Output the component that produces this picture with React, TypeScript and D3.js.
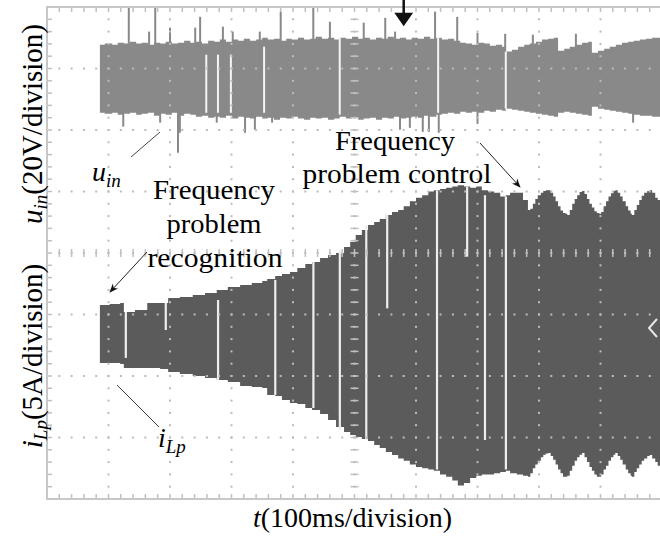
import React from "react";
import * as d3 from "d3";

// Oscilloscope screen: 10 horizontal divisions (100 ms/div), 8 vertical divisions
const timeTicks = d3.range(0, 1001, 100); // ms
const divTicks = d3.range(-4, 5, 1);
const uinVoltsPerDiv = 20;
const ilpAmpsPerDiv = 5;
const uinOffsetDiv = 2.85;
const ilpOffsetDiv = -1.3;

// u_in envelope: [t (ms), upper (V), lower (V)]
const uinEnvelope: number[][] = [
  [86, 10.7, -11.4], [94, 11.1, -11.7], [106, 10.7, -11.4], [115, 11.4, -12.0], [125, 11.1, -11.7],
  [135, 11.7, -11.4], [145, 11.1, -12.0], [154, 11.4, -11.7], [164, 10.7, -11.4], [174, 11.4, -12.4],
  [184, 11.1, -11.7], [193, 11.7, -12.0], [203, 11.1, -11.4], [213, 11.4, -12.4], [223, 12.0, -11.7],
  [233, 11.4, -12.0], [242, 11.7, -12.7], [252, 11.1, -12.4], [262, 12.0, -13.0], [272, 11.7, -12.7],
  [281, 12.4, -13.0], [291, 11.7, -12.4], [301, 12.4, -13.3], [311, 12.0, -12.7], [320, 12.7, -13.0],
  [330, 12.0, -13.3], [340, 12.4, -12.7], [350, 13.0, -13.3], [359, 12.4, -13.0], [369, 12.7, -13.7],
  [379, 12.0, -13.0], [389, 12.7, -13.3], [398, 12.4, -12.7], [408, 13.0, -13.3], [418, 12.4, -13.7],
  [428, 12.7, -13.0], [437, 13.3, -13.3], [447, 12.7, -13.0], [457, 13.0, -13.7], [467, 12.4, -13.3],
  [476, 13.0, -12.7], [486, 12.7, -13.3], [496, 13.3, -13.0], [506, 12.7, -13.7], [515, 13.0, -13.3],
  [525, 12.4, -13.0], [535, 13.0, -13.7], [545, 12.7, -13.0], [554, 13.3, -13.3], [564, 12.7, -12.7],
  [574, 13.0, -13.3], [584, 12.4, -13.0], [593, 13.0, -12.7], [603, 12.7, -13.0], [613, 13.3, -12.4],
  [623, 12.7, -12.7], [633, 13.0, -12.0], [642, 12.4, -11.7], [652, 12.7, -11.4], [662, 12.0, -11.7],
  [672, 11.4, -11.1], [681, 11.1, -11.4], [691, 10.7, -11.1], [701, 11.4, -11.4], [711, 11.1, -10.7],
  [720, 10.4, -11.1], [730, 10.7, -10.4], [740, 10.1, -10.7], [746, 8.5, -10.1], [756, 9.1, -10.4],
  [766, 10.1, -10.7], [776, 10.7, -11.1], [785, 11.1, -11.4], [795, 11.7, -11.7], [805, 12.4, -12.0],
  [815, 12.7, -12.4], [824, 13.0, -12.7], [831, 8.8, -11.4], [841, 9.4, -11.1], [850, 10.1, -11.4],
  [860, 10.7, -11.7], [870, 11.4, -12.0], [880, 11.7, -12.4], [886, 8.1, -9.4], [896, 8.8, -10.1],
  [906, 9.4, -10.4], [915, 10.1, -10.7], [925, 10.7, -11.1], [935, 11.4, -11.4], [945, 11.7, -11.7],
  [954, 12.0, -12.0], [964, 12.4, -12.4], [974, 12.7, -12.4], [984, 13.0, -12.7], [993, 13.0, -12.7],
  [1000, 13.0, -12.7],
];

// u_in spikes: [t (ms), tip (V)]
const uinSpikes: number[][] = [
  [133, 23.1], [176, 23.1], [166, 15.0], [200, 16.3], [241, 16.3], [249, 19.8], [286, 16.6],
  [302, 15.0], [346, 15.0], [380, 21.5], [433, 23.1], [460, 18.2], [515, 17.9], [550, 19.5],
  [566, 15.0], [631, 21.5], [667, 19.8], [700, 14.6], [745, 14.3], [790, 14.0], [860, 14.3],
  [124, -15.9], [184, -14.6], [213, -24.4], [216, -17.9], [276, -14.6], [322, -17.9], [338, -16.9],
  [366, -14.6], [574, -16.9], [590, -16.3], [611, -17.6], [621, -17.6], [637, -17.9], [700, -15.0],
  [953, -14.6],
];

// u_in white dropouts: [t (ms), upper (V), lower (V)]
const uinGaps: number[][] = [
  [259, 7.5, -11.4], [278, 7.5, -11.4], [299, 7.5, -11.4], [353, 10.1, -11.4],
  [476, 13.3, -12.0], [636, 13.3, -11.4], [746, 8.5, -10.1],
];

// i_Lp envelope: [t (ms), upper (A), lower (A)]
const ilpEnvelope: number[][] = [
  [86, 2.28, -2.44], [102, 2.36, -2.44], [119, 2.44, -2.52], [125, 1.71, -2.85], [143, 1.87, -2.85],
  [163, 2.44, -2.85], [184, 2.44, -2.93], [197, 2.85, -3.17], [216, 2.93, -3.33], [237, 3.09, -3.5],
  [257, 3.25, -3.66], [276, 3.5, -3.82], [294, 3.74, -3.98], [314, 3.9, -4.31], [333, 4.07, -4.39],
  [350, 4.23, -4.47], [358, 4.39, -5.04], [371, 4.63, -5.12], [382, 4.8, -5.45], [395, 4.96, -5.69],
  [407, 5.28, -5.77], [420, 5.61, -6.1], [431, 5.77, -6.26], [444, 6.1, -6.59], [457, 6.34, -7.07],
  [470, 6.5, -7.64], [483, 6.99, -8.05], [493, 7.4, -8.29], [502, 7.97, -8.46], [512, 8.37, -8.62],
  [522, 8.78, -8.78], [532, 9.02, -9.11], [541, 9.27, -9.35], [551, 9.59, -9.67], [561, 9.84, -9.92],
  [571, 10.0, -10.2], [580, 10.3, -10.4], [590, 10.7, -10.7], [600, 11.0, -10.9], [610, 11.2, -11.0],
  [620, 11.5, -11.1], [629, 11.6, -11.2], [639, 11.7, -11.5], [649, 11.8, -11.7], [659, 11.9, -12.0],
  [668, 12.0, -12.4], [678, 11.9, -12.2], [688, 11.8, -11.8], [698, 11.9, -11.6], [707, 11.6, -11.5],
  [717, 11.5, -11.5], [727, 11.4, -11.4], [737, 11.1, -11.3], [746, 11.2, -11.2], [753, 11.4, -11.4],
  [764, 11.4, -11.5], [774, 10.8, -11.6], [782, 10.0, -11.7], [786, 10.1, -11.4], [790, 10.5, -11.0],
  [794, 10.9, -10.7], [798, 11.2, -10.4], [803, 11.4, -10.1], [807, 11.55, -9.9], [811, 11.6, -9.8],
  [815, 11.6, -9.76], [819, 11.4, -10.0], [823, 11.1, -10.3], [827, 10.7, -10.7], [831, 10.3, -11.1],
  [835, 9.95, -11.4], [839, 9.76, -11.7], [843, 9.7, -11.7], [846, 9.59, -11.6], [850, 10.0, -11.2],
  [854, 10.5, -10.8], [858, 10.9, -10.4], [862, 11.2, -10.1], [866, 11.45, -9.9], [870, 11.55, -9.76],
  [874, 11.3, -10.1], [878, 10.9, -10.5], [882, 10.5, -10.9], [886, 10.2, -11.2], [890, 9.9, -11.5],
  [894, 9.76, -11.7], [898, 9.7, -11.7], [901, 9.84, -11.5], [905, 10.3, -11.1], [909, 10.7, -10.8],
  [913, 11.1, -10.4], [917, 11.35, -10.1], [921, 11.55, -9.9], [924, 11.6, -9.76], [928, 11.4, -10.0],
  [932, 11.1, -10.3], [936, 10.7, -10.7], [941, 10.3, -11.1], [945, 9.95, -11.4], [949, 9.7, -11.6],
  [951, 9.59, -11.7], [955, 10.0, -11.3], [959, 10.4, -11.0], [963, 10.8, -10.7], [967, 11.15, -10.4],
  [971, 11.4, -10.2], [976, 11.55, -10.0], [980, 11.6, -9.92], [984, 11.4, -10.2], [989, 11.0, -10.5],
  [993, 10.8, -10.8], [997, 10.6, -11.0], [1000, 10.6, -11.0],
];

// i_Lp white dropouts: [t (ms), upper (A), lower (A)]
const ilpGaps: number[][] = [
  [128, 1.71, -2.03], [193, 2.44, 0.24], [278, 2.68, -3.82], [371, 4.31, -5.04], [433, 5.77, -6.1],
  [476, 6.75, -7.89], [519, 8.78, -8.7], [553, 9.6, 2.0], [634, 11.6, -11.1], [683, 11.9, 6.2],
  [712, 11.2, -8.7], [746, 11.1, -11.1],
];

const SERIF = '"Liberation Serif", "Times New Roman", "DejaVu Serif", serif';

export default function App() {
  const L = 47, R = 662, T = 7, B = 499;
  const x = d3.scaleLinear().domain([0, 1000]).range([L, R]);
  const yDiv = d3.scaleLinear().domain([-4, 4]).range([B, T]);
  const yU = d3
    .scaleLinear()
    .domain([(-4 - uinOffsetDiv) * uinVoltsPerDiv, (4 - uinOffsetDiv) * uinVoltsPerDiv])
    .range([B, T]);
  const yI = d3
    .scaleLinear()
    .domain([(-4 - ilpOffsetDiv) * ilpAmpsPerDiv, (4 - ilpOffsetDiv) * ilpAmpsPerDiv])
    .range([B, T]);

  const areaU = d3
    .area<number[]>()
    .x((d) => x(d[0]))
    .y0((d) => yU(d[2]))
    .y1((d) => yU(d[1]))
    .curve(d3.curveStepAfter);
  const areaI = d3
    .area<number[]>()
    .x((d) => x(d[0]))
    .y0((d) => yI(d[2]))
    .y1((d) => yI(d[1]))
    .curve(d3.curveStepAfter);

  const minorT = d3.range(0, 1000.01, 20);
  const minorD = d3.range(-4, 4.001, 0.2);

  const dots: any[] = [];
  timeTicks.slice(1).forEach((t) => {
    minorD.forEach((d, j) => {
      dots.push(<rect key={`v${t}-${j}`} x={x(t) - 1} y={yDiv(d) - 1} width={2} height={2} fill="#bcbcbc" />);
    });
  });
  divTicks.slice(1, -1).forEach((dv) => {
    minorT.forEach((t, j) => {
      dots.push(<rect key={`h${dv}-${j}`} x={x(t) - 1} y={yDiv(dv) - 1} width={2} height={2} fill="#bcbcbc" />);
    });
  });

  const ticks: any[] = [];
  minorT.forEach((t, j) => {
    ticks.push(<line key={`tt${j}`} x1={x(t)} x2={x(t)} y1={T} y2={T + 5} stroke="#c0c0c0" strokeWidth={1.5} />);
    ticks.push(<line key={`tb${j}`} x1={x(t)} x2={x(t)} y1={B - 5} y2={B} stroke="#c0c0c0" strokeWidth={1.5} />);
    ticks.push(
      <line key={`tc${j}`} x1={x(t)} x2={x(t)} y1={yDiv(0) - 4} y2={yDiv(0) + 4} stroke="#c0c0c0" strokeWidth={1.5} />
    );
  });
  minorD.forEach((d, j) => {
    ticks.push(<line key={`tl${j}`} x1={L} x2={L + 5} y1={yDiv(d)} y2={yDiv(d)} stroke="#c0c0c0" strokeWidth={1.5} />);
    ticks.push(
      <line key={`tm${j}`} x1={x(500) - 4} x2={x(500) + 4} y1={yDiv(d)} y2={yDiv(d)} stroke="#c0c0c0" strokeWidth={1.5} />
    );
  });

  const tx = { fontFamily: SERIF };

  return (
    <svg width={660} height={540} style={{ position: "absolute", left: 0, top: 0, background: "#fff" }}>
      <defs>
        <marker id="ah" viewBox="0 0 10 10" refX="9" refY="5" markerWidth="9" markerHeight="9" orient="auto">
          <path d="M0,1 L10,5 L0,9 L3,5 Z" fill="#111" />
        </marker>
      </defs>
      <rect x={0} y={0} width={660} height={540} fill="#fff" />

      {/* traces */}
      <path d={areaU(uinEnvelope) || ""} fill="#898989" />
      {uinSpikes.map((s, i) => (
        <rect
          key={`us${i}`}
          x={x(s[0]) - 1}
          width={2}
          y={Math.min(yU(s[1]), yU(0))}
          height={Math.abs(yU(s[1]) - yU(0))}
          fill="#898989"
        />
      ))}
      {uinGaps.map((g, i) => (
        <rect key={`ug${i}`} x={x(g[0]) - 1} width={2} y={yU(g[1])} height={yU(g[2]) - yU(g[1])} fill="#f4f4f4" />
      ))}
      <path d={areaI(ilpEnvelope) || ""} fill="#5b5b5b" />
      {ilpGaps.map((g, i) => (
        <rect key={`ig${i}`} x={x(g[0]) - 1} width={2.2} y={yI(g[1])} height={yI(g[2]) - yI(g[1])} fill="#eeeeee" />
      ))}

      {/* graticule */}
      {dots}
      {ticks}
      <rect x={L} y={T} width={R - L} height={B - T} fill="none" stroke="#c8c8c8" strokeWidth={2} />

      {/* trigger marker and channel marker */}
      <path d={`M${x(580)},0 L${x(580)},14 M${x(580) - 7},14 L${x(580) + 7},14 L${x(580)},24 Z`} stroke="#111" strokeWidth={2.5} fill="#111" />
      <path d={`M657,319 L649,328 L657,337`} fill="none" stroke="#e8e8e8" strokeWidth={2} />

      {/* annotations */}
      <line x1={160} y1={132} x2={131} y2={157} stroke="#444" strokeWidth={1} />
      <line x1={117} y1={385} x2={159} y2={427} stroke="#444" strokeWidth={1} />
      <line x1={147} y1={252} x2={110} y2={292} stroke="#222" strokeWidth={1} markerEnd="url(#ah)" />
      <line x1={480} y1={143} x2={520} y2={187} stroke="#222" strokeWidth={1} markerEnd="url(#ah)" />

      <g fill="#000">
        <text x={92} y={181} fontSize={28} fontStyle="italic" style={tx}>
          u<tspan fontSize={19} dy={6}>in</tspan>
        </text>
        <text x={158} y={447} fontSize={28} fontStyle="italic" style={tx}>
          i<tspan fontSize={19} dy={6}>Lp</tspan>
        </text>

        <text x={214} y={199} fontSize={27} textAnchor="middle" style={tx} textLength={122} lengthAdjust="spacingAndGlyphs">Frequency</text>
        <text x={214} y={233} fontSize={27} textAnchor="middle" style={tx} textLength={95} lengthAdjust="spacingAndGlyphs">problem</text>
        <text x={215} y={267} fontSize={27} textAnchor="middle" style={tx} textLength={135} lengthAdjust="spacingAndGlyphs">recognition</text>

        <text x={395} y={150} fontSize={27} textAnchor="middle" style={tx} textLength={120} lengthAdjust="spacingAndGlyphs">Frequency</text>
        <text x={397} y={183} fontSize={27} textAnchor="middle" style={tx} textLength={189} lengthAdjust="spacingAndGlyphs">problem control</text>

        <text x={253} y={527} fontSize={28} style={tx}>
          <tspan fontStyle="italic">t</tspan>(100ms/division)
        </text>

        <text transform="translate(42,124) rotate(-90)" fontSize={29} textAnchor="middle" style={tx}>
          <tspan fontStyle="italic">u</tspan>
          <tspan fontStyle="italic" fontSize={19} dy={5}>in</tspan>
          <tspan dy={-5}>(20V/division)</tspan>
        </text>
        <text transform="translate(42,356) rotate(-90)" fontSize={29} textAnchor="middle" style={tx}>
          <tspan fontStyle="italic">i</tspan>
          <tspan fontStyle="italic" fontSize={19} dy={5}>Lp</tspan>
          <tspan dy={-5}>(5A/division)</tspan>
        </text>
      </g>
    </svg>
  );
}
